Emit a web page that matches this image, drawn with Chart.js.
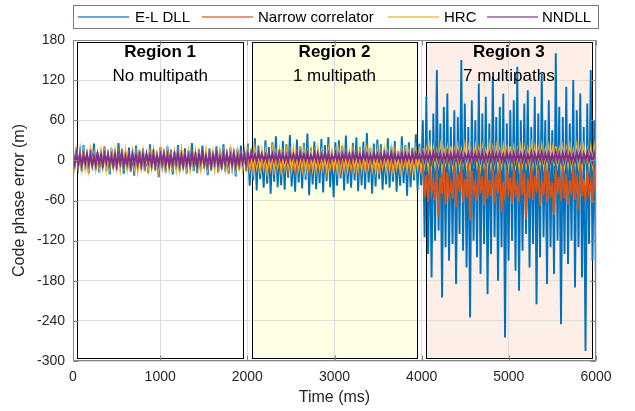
<!DOCTYPE html>
<html>
<head>
<meta charset="utf-8">
<script src="https://cdn.jsdelivr.net/npm/chart.js@4.4.1/dist/chart.umd.min.js"></script>
<style>
  html, body { margin: 0; padding: 0; background: #fff; }
  canvas { display: block; }
</style>
</head>
<body>
<canvas id="chart" width="635" height="411"></canvas>
<script>
// code phase error samples (m), evenly spaced over 0..6000 ms, 100 per region
const elDll = [
  // region 1
  16,-12,20,-9,13,-17,23,-14,11,-19,17,-8,25,-15,12,-18,15,-11,21,-16,
  10,-21,18,-12,14,-15,26,-9,17,-20,13,-14,19,-17,11,-23,22,-10,15,-13,
  18,-16,9,-19,24,-12,16,-15,12,-25,20,-11,14,-18,21,-9,16,-21,13,-14,
  23,-17,11,-13,18,-20,15,-10,26,-16,12,-19,17,-14,22,-12,10,-22,18,-15,
  14,-11,21,-18,16,-13,24,-17,12,-20,19,-9,15,-24,17,-14,22,-12,13,-16,
  // region 2
  25,-38,18,-30,33,-45,22,-28,14,-41,30,-35,20,-50,27,-32,36,-40,16,-37,
  29,-44,24,-26,38,-39,12,-47,31,-33,21,-42,26,-29,40,-52,19,-36,28,-43,
  17,-34,32,-48,23,-31,35,-40,15,-55,27,-38,30,-27,22,-45,37,-35,13,-41,
  26,-30,34,-46,20,-37,28,-43,41,-33,18,-50,25,-39,31,-28,24,-44,16,-36,
  33,-41,21,-32,29,-47,14,-38,36,-34,23,-53,27,-40,19,-30,39,-45,25,-37,
  // region 3
  60,-115,95,-140,45,-175,70,-120,135,-105,55,-205,80,-130,100,-150,50,-125,75,-185,
  65,-110,150,-135,85,-160,50,-235,90,-120,60,-145,115,-170,70,-125,95,-200,55,-140,
  125,-115,65,-180,80,-130,100,-265,55,-150,75,-120,90,-165,140,-195,60,-135,85,-110,
  105,-160,50,-125,95,-215,70,-145,130,-115,60,-185,90,-130,45,-170,160,-120,80,-245,
  65,-140,110,-155,55,-120,120,-190,75,-130,100,-175,50,-285,85,-125,135,-150,60,-200
];

const narrow = [
  7,-6,9,-8,4,-9,8,-5,6,-10,9,-4,7,-7,5,-9,10,-6,3,-8,
  8,-5,6,-9,9,-7,4,-10,7,-6,10,-4,5,-8,8,-7,6,-9,9,-5,
  4,-8,7,-6,10,-9,5,-7,8,-4,6,-10,9,-6,7,-8,3,-7,8,-9,
  9,-5,6,-8,4,-6,10,-9,7,-5,8,-8,5,-10,9,-4,6,-7,10,-6,
  5,-9,8,-6,7,-8,4,-5,9,-10,6,-7,10,-4,5,-9,8,-6,7,-8,
  3,-14,-2,-17,5,-11,0,-16,-5,-12,4,-18,-1,-13,6,-15,-4,-10,2,-17,
  -3,-12,5,-16,1,-9,-6,-18,3,-13,-2,-15,6,-11,0,-17,4,-14,-5,-10,
  2,-16,-1,-12,5,-18,-4,-13,3,-15,0,-11,6,-17,-3,-14,1,-10,4,-16,
  -2,-13,5,-18,0,-11,3,-15,-5,-12,6,-16,-1,-14,2,-17,-4,-10,4,-13,
  1,-15,-3,-18,5,-12,0,-16,4,-11,-2,-14,6,-17,-4,-13,2,-10,3,-15,
  -10,-55,-22,-62,-8,-48,-30,-60,-14,-85,-25,-50,-6,-66,-18,-53,-35,-58,-9,-70,
  -20,-47,-12,-63,-28,-56,-5,-90,-16,-52,-33,-61,-10,-49,-24,-67,-7,-57,-29,-54,
  -13,-64,-21,-50,-8,-78,-32,-59,-15,-46,-26,-65,-11,-55,-36,-62,-6,-52,-19,-88,
  -27,-57,-9,-60,-23,-48,-14,-68,-31,-53,-7,-63,-17,-56,-34,-82,-12,-50,-25,-61,
  -8,-58,-20,-66,-30,-51,-11,-59,-22,-74,-6,-54,-28,-62,-15,-49,-35,-64,-10,-57
];

const hrc = [
  11,-10,13,-8,7,-12,12,-11,9,-13,14,-7,10,-12,6,-10,13,-9,11,-13,
  8,-11,12,-6,14,-10,9,-13,11,-8,13,-12,7,-9,12,-11,10,-14,8,-10,
  13,-9,6,-12,11,-10,14,-8,9,-13,12,-7,10,-11,13,-12,8,-9,11,-13,
  10,-12,14,-9,7,-11,12,-13,9,-8,13,-10,11,-12,6,-9,14,-11,10,-7,
  12,-13,9,-10,13,-8,11,-12,8,-11,14,-9,10,-13,12,-10,7,-12,13,-9,
  14,-10,11,-12,15,-8,9,-11,13,-9,12,-13,7,-10,15,-11,10,-8,14,-12,
  9,-10,13,-7,11,-12,15,-9,8,-11,12,-10,14,-13,10,-8,13,-11,9,-12,
  15,-9,11,-10,7,-12,14,-8,12,-11,10,-13,13,-9,15,-10,9,-12,11,-8,
  13,-11,8,-10,14,-12,10,-9,15,-7,12,-11,9,-13,13,-10,11,-8,14,-12,
  10,-9,15,-11,12,-10,8,-12,13,-8,14,-11,11,-10,9,-13,15,-9,12,-11,
  18,-6,14,-8,20,-4,16,-7,12,-5,19,-8,15,-3,17,-6,21,-7,13,-5,
  18,-8,14,-4,20,-6,16,-7,12,-3,19,-5,15,-8,17,-6,13,-4,20,-7,
  16,-5,18,-8,14,-6,19,-3,15,-7,21,-5,17,-6,13,-8,18,-4,16,-7,
  14,-6,20,-5,17,-8,15,-4,19,-7,13,-6,18,-3,16,-8,21,-5,14,-6,
  17,-7,15,-5,19,-8,13,-4,20,-6,16,-7,18,-3,14,-8,17,-5,19,-6
];

const nndll = [
  9,-6,10,-7,7,-8,8,-5,10,-6,9,-8,6,-7,10,-5,8,-8,9,-4,
  10,-6,7,-7,9,-8,8,-5,10,-7,6,-6,9,-8,10,-5,8,-7,7,-8,
  9,-6,10,-4,8,-7,10,-8,7,-6,9,-5,10,-7,8,-8,6,-6,9,-5,
  10,-7,8,-8,9,-6,7,-7,10,-5,8,-8,9,-4,10,-6,7,-7,9,-8,
  8,-5,10,-7,6,-8,9,-6,10,-5,8,-7,10,-8,7,-6,9,-4,10,-7,
  10,-1,11,0,9,-2,11,1,10,-1,8,-2,11,0,10,-1,9,-2,11,0,
  10,-1,8,-2,11,1,9,-1,10,-2,11,0,9,-1,10,-2,8,0,11,-1,
  10,-2,9,0,11,-1,10,-2,8,0,11,-1,9,-2,10,0,11,-1,9,-2,
  11,0,10,-1,9,-2,11,1,10,-1,8,-2,11,0,9,-1,10,-2,11,0,
  9,-1,11,-2,10,0,8,-1,11,-2,10,0,9,-1,11,-2,10,1,8,-1,
  12,-1,10,0,11,-2,12,1,10,-1,11,-2,9,0,12,-1,10,-2,11,0,
  12,-1,10,-2,9,1,11,-1,12,-2,10,0,11,-1,12,-2,9,0,11,-1,
  12,-2,10,0,11,-1,9,-2,12,0,10,-1,11,-2,12,0,10,-1,11,-2,
  9,0,12,-1,10,-2,11,1,12,-1,10,0,11,-2,9,-1,12,0,10,-2,
  11,-1,12,0,10,-2,9,-1,12,1,11,-2,10,0,12,-1,9,-2,11,0
];

const seriesNames = ["E-L DLL", "Narrow correlator", "HRC", "NNDLL"];
const seriesColors = ["#0072bd", "#d95319", "#edb120", "#7e2f8e"];

const regionStart = [50, 2050, 4050];
const regionEnd = [1950, 3950, 5950];
const regionTitles = ["Region 1", "Region 2", "Region 3"];
const regionNotes = ["No multipath", "1 multipath", "7 multipaths"];
const regionFills = ["#ffffff", "#ffffe4", "#fdeee7"];

const xTicks = [0, 1000, 2000, 3000, 4000, 5000, 6000];
const yTicks = [-300, -240, -180, -120, -60, 0, 60, 120, 180];

const FONT = '"Liberation Sans", Arial, Helvetica, sans-serif';
Chart.defaults.font.family = FONT;

const toPoints = (arr) => arr.map((y, i) => ({ x: i * 6000 / (arr.length - 1), y: y }));

const regions = {
  id: "regions",
  beforeDraw(chart) {
    const { ctx } = chart;
    const x = chart.scales.x, y = chart.scales.y;
    ctx.save();
    ctx.fillStyle = "#fff";
    ctx.fillRect(0, 0, chart.width, chart.height);
    const top = y.getPixelForValue(177), bot = y.getPixelForValue(-295);
    regionStart.forEach((s, i) => {
      const l = x.getPixelForValue(s), r = x.getPixelForValue(regionEnd[i]);
      ctx.fillStyle = regionFills[i];
      ctx.fillRect(l, top, r - l, bot - top);
    });
    ctx.restore();
  },
  beforeDatasetsDraw(chart) {
    const { ctx } = chart;
    const x = chart.scales.x, y = chart.scales.y;
    const top = Math.round(y.getPixelForValue(177)) + 0.5;
    const bot = Math.round(y.getPixelForValue(-295)) + 0.5;
    ctx.save();
    ctx.strokeStyle = "#000";
    ctx.lineWidth = 1;
    regionStart.forEach((s, i) => {
      const l = Math.round(x.getPixelForValue(s)) + 0.5;
      const r = Math.round(x.getPixelForValue(regionEnd[i])) + 0.5;
      ctx.strokeRect(l, top, r - l, bot - top);
    });
    ctx.restore();
  },
  afterDatasetsDraw(chart) {
    const { ctx, chartArea: a } = chart;
    const x = chart.scales.x, y = chart.scales.y;
    ctx.save();
    // region labels
    ctx.fillStyle = "#000";
    ctx.textAlign = "center";
    ctx.textBaseline = "middle";
    regionStart.forEach((s, i) => {
      const cx = x.getPixelForValue((s + regionEnd[i]) / 2);
      ctx.font = "bold 17px " + FONT;
      ctx.fillText(regionTitles[i], cx, y.getPixelForValue(161));
      ctx.font = "17px " + FONT;
      ctx.fillText(regionNotes[i], cx, y.getPixelForValue(126));
    });
    // axes box and inward ticks
    ctx.strokeStyle = "#858585";
    ctx.lineWidth = 1;
    const L = Math.round(a.left) + 0.5, R = Math.round(a.right) - 0.5;
    const T = Math.round(a.top) + 0.5, B = Math.round(a.bottom) - 0.5;
    ctx.strokeRect(L, T, R - L, B - T);
    ctx.beginPath();
    xTicks.forEach(v => {
      const px = Math.round(x.getPixelForValue(v)) + 0.5;
      ctx.moveTo(px, B); ctx.lineTo(px, B - 5);
      ctx.moveTo(px, T); ctx.lineTo(px, T + 5);
    });
    yTicks.forEach(v => {
      const py = Math.round(y.getPixelForValue(v)) + 0.5;
      ctx.moveTo(L, py); ctx.lineTo(L + 5, py);
      ctx.moveTo(R, py); ctx.lineTo(R - 5, py);
    });
    ctx.stroke();
    ctx.restore();
  },
  afterDraw(chart) {
    // legend box above the axes
    const { ctx } = chart;
    ctx.save();
    ctx.fillStyle = "#fff";
    ctx.fillRect(73.5, 5.5, 525, 23);
    ctx.strokeStyle = "#7a7a7a";
    ctx.lineWidth = 1;
    ctx.strokeRect(73.5, 5.5, 525, 23);
    const lineX = [78, 202, 388, 487];
    const textX = [135, 258, 444, 542];
    ctx.font = "15px " + FONT;
    ctx.textBaseline = "middle";
    ctx.textAlign = "left";
    seriesNames.forEach((n, i) => {
      ctx.globalAlpha = 0.6;
      ctx.strokeStyle = seriesColors[i];
      ctx.lineWidth = 2;
      ctx.beginPath();
      ctx.moveTo(lineX[i], 17);
      ctx.lineTo(lineX[i] + 51, 17);
      ctx.stroke();
      ctx.globalAlpha = 1;
      ctx.fillStyle = "#000";
      ctx.fillText(n, textX[i], 17.5);
    });
    ctx.restore();
  }
};

const seriesData = [elDll, narrow, hrc, nndll];

new Chart(document.getElementById("chart"), {
  type: "line",
  data: {
    datasets: seriesData.map((arr, i) => ({
      label: seriesNames[i],
      data: toPoints(arr),
      borderColor: seriesColors[i],
      backgroundColor: seriesColors[i],
      borderWidth: 1.9,
      pointRadius: 0,
      tension: 0,
      order: 4 - i,
    })),
  },
  options: {
    responsive: false,
    animation: false,
    devicePixelRatio: 1,
    layout: { padding: { top: 40, right: 39, left: 0, bottom: 0 } },
    plugins: {
      legend: { display: false },
      tooltip: { enabled: false },
    },
    scales: {
      x: {
        type: "linear",
        min: 0,
        max: 6000,
        afterBuildTicks: (s) => { s.ticks = xTicks.map(v => ({ value: v })); },
        afterFit: (s) => { s.height = 50; },
        grid: { color: "#dcdcdc", drawTicks: false },
        border: { display: false },
        ticks: { color: "#262626", font: { size: 14 }, padding: 8, maxRotation: 0, callback: (v) => String(v) },
        title: { display: true, text: "Time (ms)", color: "#262626", font: { size: 16 }, padding: { top: 2 } },
      },
      y: {
        min: -300,
        max: 180,
        afterBuildTicks: (s) => { s.ticks = yTicks.map(v => ({ value: v })); },
        afterFit: (s) => { s.width = 73; },
        grid: { color: "#dcdcdc", drawTicks: false },
        border: { display: false },
        ticks: { color: "#262626", font: { size: 14 }, padding: 8, callback: (v) => String(v) },
        title: { display: true, text: "Code phase error (m)", color: "#262626", font: { size: 16 }, padding: { top: 10, bottom: 0 } },
      },
    },
  },
  plugins: [regions],
});
</script>
</body>
</html>
